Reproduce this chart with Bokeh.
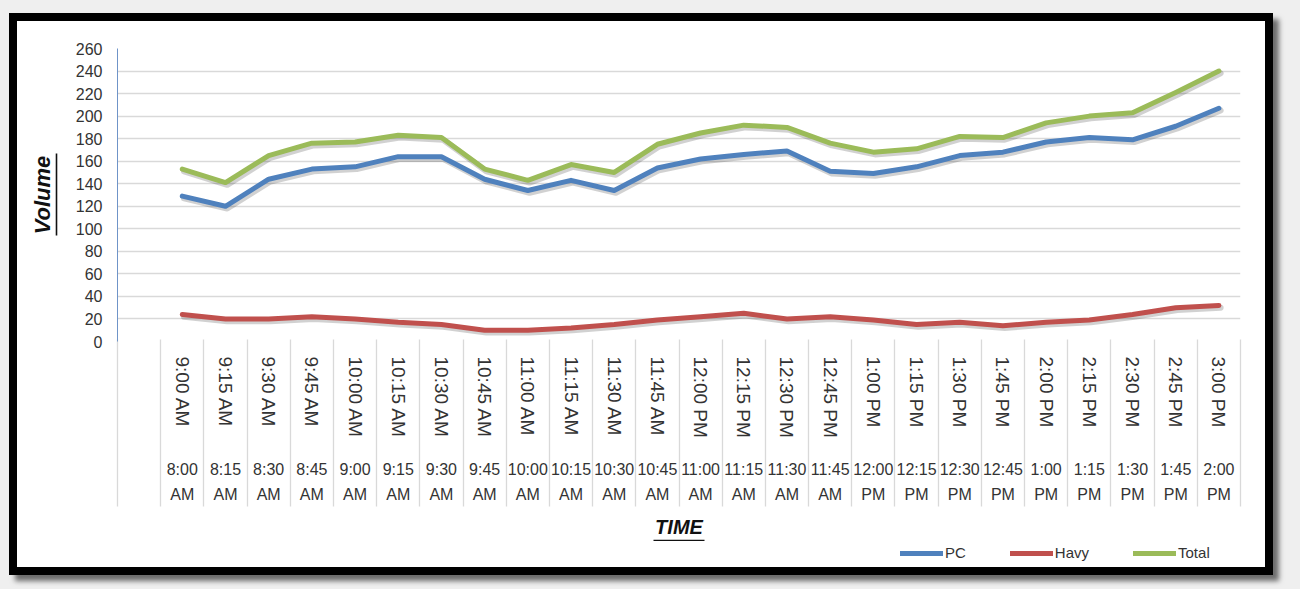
import numpy as np
from bokeh.plotting import figure
from bokeh.models import (Range1d, FixedTicker, LinearAxis, Legend, LegendItem,
                          ColumnDataSource)
from bokeh.layouts import column
from bokeh.transform import dodge
from bokeh.embed import file_html
from bokeh.resources import INLINE

# ---------------- data ----------------
start_times = ["8:00 AM", "8:15 AM", "8:30 AM", "8:45 AM", "9:00 AM", "9:15 AM", "9:30 AM",
               "9:45 AM", "10:00 AM", "10:15 AM", "10:30 AM", "10:45 AM", "11:00 AM",
               "11:15 AM", "11:30 AM", "11:45 AM", "12:00 PM", "12:15 PM", "12:30 PM",
               "12:45 PM", "1:00 PM", "1:15 PM", "1:30 PM", "1:45 PM", "2:00 PM"]
end_times = ["9:00 AM", "9:15 AM", "9:30 AM", "9:45 AM", "10:00 AM", "10:15 AM", "10:30 AM",
             "10:45 AM", "11:00 AM", "11:15 AM", "11:30 AM", "11:45 AM", "12:00 PM",
             "12:15 PM", "12:30 PM", "12:45 PM", "1:00 PM", "1:15 PM", "1:30 PM",
             "1:45 PM", "2:00 PM", "2:15 PM", "2:30 PM", "2:45 PM", "3:00 PM"]
pc = [129, 120, 144, 153, 155, 164, 164, 144, 134, 143, 134, 154, 162,
      166, 169, 151, 149, 155, 165, 168, 177, 181, 179, 191, 207]
havy = [24, 20, 20, 22, 20, 17, 15, 10, 10, 12, 15, 19, 22,
        25, 20, 22, 19, 15, 17, 14, 17, 19, 24, 30, 32]
total = [153, 141, 165, 176, 177, 183, 181, 153, 143, 157, 150, 175, 185,
         192, 190, 176, 168, 171, 182, 181, 194, 200, 203, 221, 240]
series_names = ["PC", "Havy", "Total"]
y_ticks = list(range(0, 261, 20))

# one blank leading category slot, then one slot per interval
n = len(pc)
x_center = np.arange(n) + 1.5
slot_edges = list(range(n + 2))

FONT = "Liberation Sans"
TXT = "#333333"
GRID = "#d9d9d9"
INK = "#111111"
COLORS = ["#4F81BD", "#C0504D", "#9BBB59"]
FIELDS = ["pc", "havy", "total"]


def bare(ax):
    ax.major_tick_out = 0
    ax.major_tick_in = 0
    ax.minor_tick_out = 0
    ax.minor_tick_in = 0
    return ax


def line_only_axis(tick, bounds):
    """An axis that only shows a short stretch of its line (used as an underline)."""
    ax = bare(LinearAxis(ticker=FixedTicker(ticks=[tick]), major_label_overrides={tick: ""},
                         bounds=bounds))
    ax.major_tick_line_color = None
    ax.major_label_standoff = 0
    ax.axis_line_color = INK
    ax.axis_line_width = 1.6
    return ax


src = ColumnDataSource(dict(x=x_center, pc=pc, havy=havy, total=total))

p = figure(width=1248, height=520, x_range=Range1d(0, n + 1), y_range=Range1d(0, 260),
           x_axis_type=None, output_backend="svg", toolbar_location=None,
           min_border_left=100, min_border_right=25, min_border_top=27, min_border_bottom=200)
p.outline_line_color = None
p.background_fill_color = "white"
p.border_fill_color = "white"

# y axis: tick labels next to the plot
yax = bare(p.yaxis[0])
yax.ticker = FixedTicker(ticks=y_ticks)
yax.axis_line_color = "#6f94c8"
yax.axis_line_width = 1
yax.major_label_text_font = FONT
yax.major_label_text_font_size = "16px"
yax.major_label_text_color = TXT
yax.major_label_standoff = 15
p.ygrid.ticker = FixedTicker(ticks=y_ticks)
p.ygrid.grid_line_color = GRID
p.ygrid.grid_line_width = 1.3

# spacer, then an axis whose short line underlines the "Volume" title
ysp = bare(LinearAxis(ticker=FixedTicker(ticks=[130]), major_label_overrides={130: ""}))
ysp.major_tick_out = 16
ysp.major_tick_line_color = None
ysp.axis_line_color = None
ysp.major_label_standoff = 0
yttl = line_only_axis(130, (94, 167))
yttl.axis_label = "Volume"
yttl.axis_label_text_font = FONT
yttl.axis_label_text_font_style = "bold italic"
yttl.axis_label_text_font_size = "22px"
yttl.axis_label_text_color = INK
yttl.axis_label_standoff = 2
p.add_layout(ysp, "left")
p.add_layout(yttl, "left")

# x axis A: end times (rotated)
ax_a = bare(LinearAxis(ticker=FixedTicker(ticks=list(x_center)),
                       major_label_overrides={float(x): t for x, t in zip(x_center, end_times)},
                       major_label_orientation="vertical"))
# x axis B: start times (two lines)
ax_b = bare(LinearAxis(ticker=FixedTicker(ticks=list(x_center)),
                       major_label_overrides={float(x): t.replace(" ", "\n")
                                              for x, t in zip(x_center, start_times)},
                       major_label_orientation="horizontal"))
for ax in (ax_a, ax_b):
    ax.axis_line_color = None
    ax.major_label_text_font = FONT
    ax.major_label_text_color = TXT
ax_a.major_label_text_font_size = "19px"
ax_a.major_label_standoff = 15
ax_b.major_label_text_font_size = "16px"
ax_b.major_label_text_line_height = 1.5
ax_b.major_label_standoff = 20

# x axis C: slot separators + title
ax_c = bare(LinearAxis(ticker=FixedTicker(ticks=slot_edges),
                       major_label_overrides={float(e): "" for e in slot_edges}))
ax_c.axis_line_color = None
ax_c.major_tick_in = 167
ax_c.major_tick_line_color = GRID
ax_c.major_tick_line_width = 1.3
ax_c.major_label_standoff = 0
ax_c.axis_label = "TIME"
ax_c.axis_label_text_font = FONT
ax_c.axis_label_text_font_style = "bold italic"
ax_c.axis_label_text_font_size = "20px"
ax_c.axis_label_text_color = INK
ax_c.axis_label_standoff = 9

# x axis D: short line underlining "TIME"
ax_d = line_only_axis(13, (12.4, 13.6))

p.add_layout(ax_a, "below")
p.add_layout(ax_b, "below")
p.add_layout(ax_c, "below")
p.add_layout(ax_d, "below")

# lines with soft shadow
for field, color in zip(FIELDS, COLORS):
    p.line(x=dodge("x", 0.04), y=dodge(field, -2.0), source=src, line_color="#000000",
           line_alpha=0.18, line_width=6, line_join="round", line_cap="round")
    p.line(x="x", y=field, source=src, line_color=color, line_width=5,
           line_join="round", line_cap="round")

# legend strip under the chart (its own small canvas so nothing gets clipped);
# the series are drawn there outside the visible range, only their legend shows
p_leg = figure(width=1248, height=26, x_range=Range1d(0, 1), y_range=Range1d(-2, -1),
               x_axis_type=None, y_axis_type=None, output_backend="svg",
               toolbar_location=None, min_border=0)
p_leg.outline_line_color = None
p_leg.grid.visible = False
items = []
for name, field, color in zip(series_names, FIELDS, COLORS):
    r = p_leg.line(x="x", y=field, source=src, line_color=color, line_width=5,
                   line_cap="round")
    items.append(LegendItem(label=name, renderers=[r]))
legend = Legend(items=items, orientation="horizontal", location=(783, 6))
legend.glyph_width = 43
legend.glyph_height = 12
legend.label_standoff = 2
legend.spacing = 44
legend.padding = 0
legend.margin = 0
legend.border_line_color = None
legend.background_fill_alpha = 0
legend.label_text_font = FONT
legend.label_text_font_size = "15px"
legend.label_text_color = TXT
p_leg.add_layout(legend, "center")

chart = column(p, p_leg, width=1264, height=562,
               styles={"border": "8px solid #000000", "background-color": "#ffffff",
                       "box-shadow": "6px 6px 5px rgba(0,0,0,0.55)"})
root = column(chart, styles={"background-color": "#efefef", "padding": "13px 0px 0px 9px"},
              width=1300, height=589)

open("out.html", "w").write(file_html(root, INLINE))
